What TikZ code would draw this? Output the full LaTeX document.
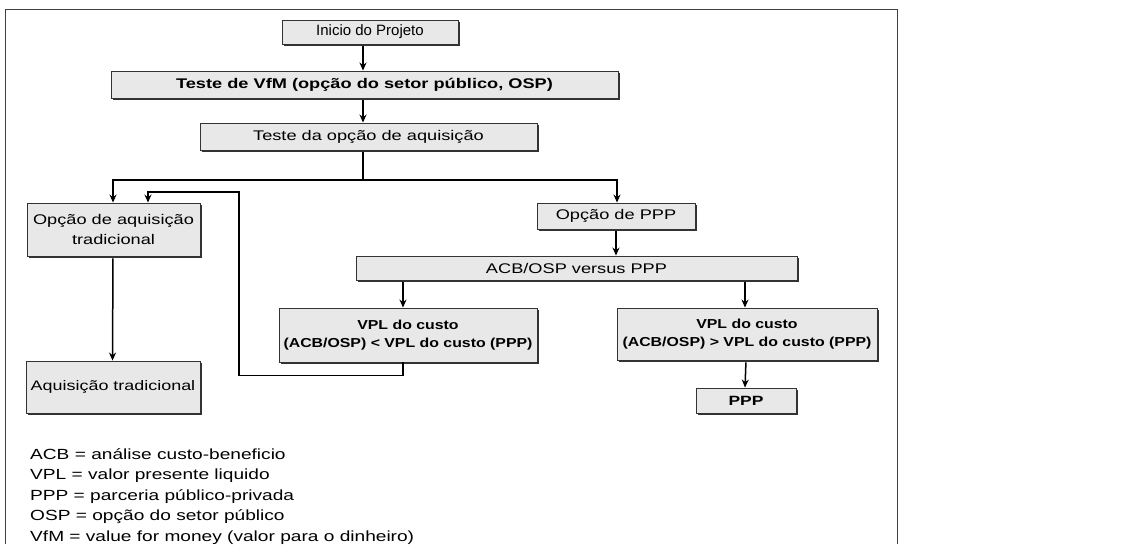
\documentclass[tikz,border=0pt]{standalone}
\usepackage{fontspec}
\setmainfont{Liberation Sans}
\newfontfamily\largo[FakeStretch=1.3]{Liberation Sans}
\newfontfamily\medio[FakeStretch=1.22]{Liberation Sans}
\usetikzlibrary{arrows.meta,positioning,shadows}

\tikzset{
  caixa/.style={draw=black!80, line width=0.9pt, fill=black!9, inner sep=2pt, align=center,
    font=\largo\fontsize{14}{20}\selectfont,
    drop shadow={shadow xshift=1.6pt, shadow yshift=-1.6pt, fill=black!80, opacity=1}},
  negrito/.style={font=\largo\fontsize{14}{18}\selectfont\bfseries},
  seta/.style={-{Stealth[length=8pt,width=7pt]}, line width=1.5pt, shorten <=2pt},
  linha/.style={line width=1.5pt},
}

\begin{document}
\begin{tikzpicture}[x=1pt, y=-1pt]
\useasboundingbox (0,0) rectangle (1146,544);
% moldura da figura
\draw[line width=0.8pt, black!75] (5,544) -- (5,9) -- (897,9) -- (897,544);

% etapas
\node[caixa, minimum width=176pt, minimum height=24pt, font=\fontsize{15}{18}\selectfont] (inicio) at (370,32) {Inicio do Projeto};
\node[caixa, negrito, minimum width=507pt, minimum height=27pt] (vfm) at (364.5,84.5) {Teste de VfM (opção do setor público, OSP)};
\node[caixa, minimum width=337pt, minimum height=27pt] (aquis) at (368.5,136.5) {Teste da opção de aquisição};
\node[caixa, minimum width=173pt, minimum height=53pt] (tradop) at (113.5,229.5) {Opção de aquisição\\tradicional};
\node[caixa, minimum width=158pt, minimum height=26pt] (pppop) at (616,216) {Opção de PPP};
\node[caixa, minimum width=441pt, minimum height=24pt] (acb) at (576.5,268) {ACB/OSP versus PPP};
\node[caixa, minimum width=258pt, minimum height=54pt, font=\medio\fontsize{13}{18}\selectfont\bfseries] (vplmenor) at (408,335) {VPL do custo\\(ACB/OSP) < VPL do custo (PPP)};
\node[caixa, minimum width=260pt, minimum height=52pt, font=\medio\fontsize{13}{18}\selectfont\bfseries] (vplmaior) at (747,334) {VPL do custo\\(ACB/OSP) > VPL do custo (PPP)};
\node[caixa, minimum width=174pt, minimum height=52pt, font=\largo\fontsize{13.8}{18}\selectfont] (trad) at (113,387) {Aquisição tradicional};
\node[caixa, minimum width=100pt, minimum height=25pt, font=\largo\fontsize{13.4}{18}\selectfont\bfseries] (ppp) at (746,400.5) {PPP};

% legenda
\node[anchor=north west, align=left, inner sep=0pt, font=\largo\fontsize{14.7}{20.5}\selectfont] (legenda) at (30,448)
  {ACB = análise custo-beneficio\\VPL = valor presente liquido\\PPP = parceria público-privada\\OSP = opção do setor público\\VfM = value for money (valor para o dinheiro)};

% ligações
\coordinate (eixo) at (363,0);
\draw[seta] (inicio.south -| eixo) -- (vfm.north -| eixo);
\draw[seta] (vfm.south -| eixo) -- (aquis.north -| eixo);
\draw[linha, shorten <=2pt] (aquis.south -| eixo) -- (363,180) coordinate (ramo);
\draw[seta, shorten <=0pt] (ramo) -| ([xshift=-0.5pt]tradop.north);
\draw[seta, shorten <=0pt] (ramo) -| ([xshift=1pt]pppop.north);
\draw[seta] (pppop.south) -- (pppop.south |- acb.north);
\draw[seta] ([xshift=-5pt]vplmenor.north |- acb.south) -- ([xshift=-5pt]vplmenor.north);
\draw[seta] ([xshift=-2pt]vplmaior.north |- acb.south) -- ([xshift=-2pt]vplmaior.north);
\draw[seta] ([xshift=-1pt]vplmaior.south) -- ([xshift=-1pt]ppp.north);
\draw[seta] ([xshift=-0.5pt]tradop.south) -- ([xshift=-0.5pt]trad.north);
\draw[seta, shorten <=0pt] ([xshift=-5pt]vplmenor.south) -- ++(0,13) -| (239,192) -| ([xshift=34.5pt]tradop.north);
\end{tikzpicture}
\end{document}
